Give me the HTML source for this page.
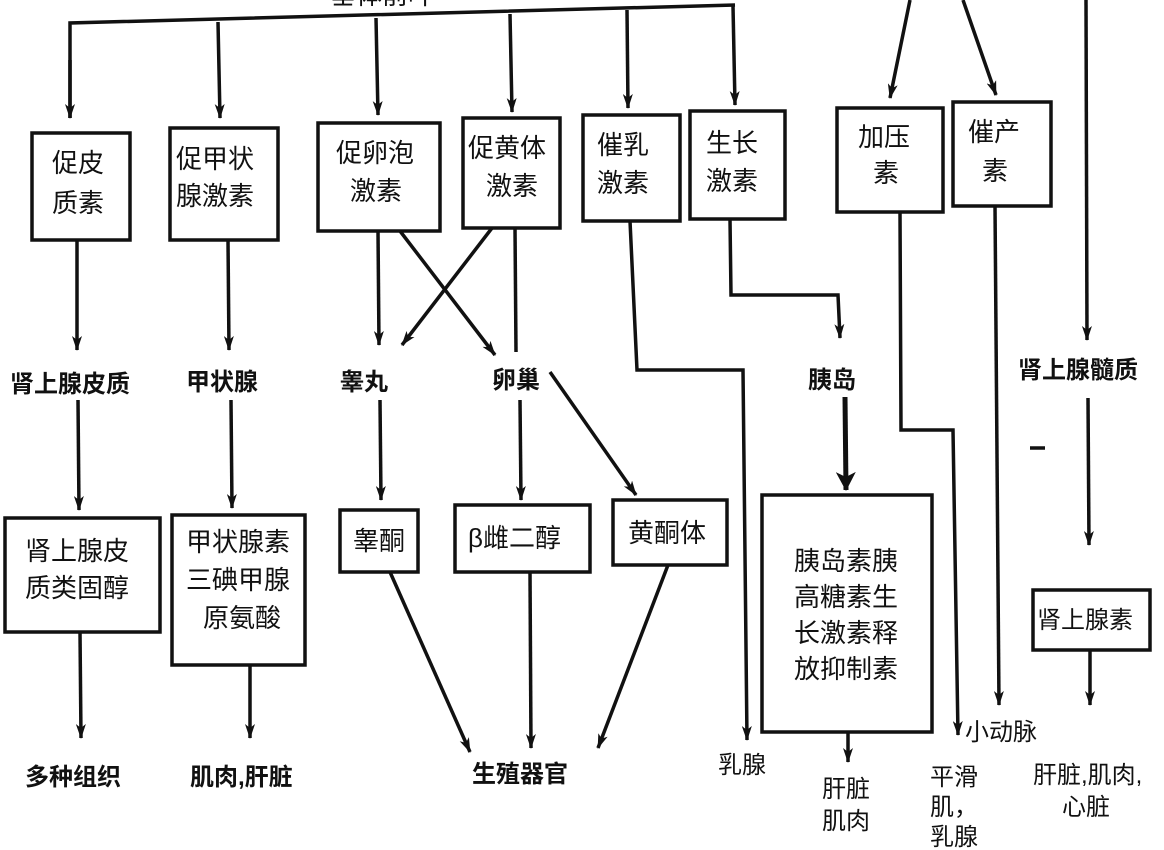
<!DOCTYPE html>
<html><head><meta charset="utf-8"><style>
html,body{margin:0;padding:0;background:#fff}
svg{display:block}
text{font-family:"Liberation Sans","Noto Sans CJK SC",sans-serif;font-size:26px;fill:#111}
.b{font-weight:bold;font-size:24px}
.s{font-size:24px}
</style></head><body>
<svg width="1164" height="850" viewBox="0 0 1164 850" xmlns="http://www.w3.org/2000/svg">
<defs>
<marker id="a" markerWidth="16" markerHeight="10" refX="14" refY="5" orient="auto" markerUnits="userSpaceOnUse">
<path d="M0,0 L15,5 L0,10 L4,5 Z" fill="#111"/></marker>
<marker id="A" markerWidth="20" markerHeight="20" refX="18" refY="10" orient="auto" markerUnits="userSpaceOnUse">
<path d="M0,0 L19,10 L0,20 L5,10 Z" fill="#111"/></marker>
</defs>
<g stroke="#111" stroke-width="3.5" fill="none">
<path d="M70,118 L70,23 L735,5"/>
<line x1="70" y1="60" x2="70" y2="118" marker-end="url(#a)"/>
<line x1="218" y1="22" x2="220" y2="118" marker-end="url(#a)"/>
<line x1="376" y1="18" x2="378" y2="115" marker-end="url(#a)"/>
<line x1="510" y1="14" x2="512" y2="112" marker-end="url(#a)"/>
<line x1="627" y1="10" x2="628" y2="108" marker-end="url(#a)"/>
<line x1="733" y1="6" x2="735" y2="105" marker-end="url(#a)"/>
<line x1="910" y1="0" x2="890" y2="98" marker-end="url(#a)"/>
<line x1="963" y1="0" x2="996" y2="95" marker-end="url(#a)"/>
<line x1="1086" y1="0" x2="1087" y2="340" marker-end="url(#a)"/>
<rect x="32" y="133" width="98" height="107"/>
<rect x="170" y="128" width="108" height="112"/>
<rect x="318" y="123" width="122" height="108"/>
<rect x="463" y="118" width="97" height="110"/>
<rect x="583" y="115" width="97" height="106"/>
<rect x="690" y="111" width="95" height="108"/>
<rect x="837" y="108" width="106" height="104"/>
<rect x="953" y="102" width="98" height="104"/>
<line x1="77" y1="240" x2="77" y2="350" marker-end="url(#a)"/>
<line x1="228" y1="240" x2="229" y2="350" marker-end="url(#a)"/>
<line x1="378" y1="231" x2="379" y2="345" marker-end="url(#a)"/>
<line x1="400" y1="231" x2="495" y2="355" marker-end="url(#a)"/>
<line x1="492" y1="228" x2="402" y2="345" marker-end="url(#a)"/>
<line x1="515" y1="228" x2="516" y2="352"/>
<path d="M630,221 L637,370 L743,370 L747,740" marker-end="url(#a)"/>
<path d="M730,219 L731,295 L838,295 L840,338" marker-end="url(#a)"/>
<path d="M900,212 L901,430 L953,430 L958,735" marker-end="url(#a)"/>
<line x1="995" y1="206" x2="999" y2="705" marker-end="url(#a)"/>
<line x1="1088" y1="398" x2="1089" y2="545" marker-end="url(#a)"/>
<line x1="1030" y1="448" x2="1045" y2="448"/>
<line x1="78" y1="400" x2="79" y2="510" marker-end="url(#a)"/>
<line x1="231" y1="400" x2="232" y2="508" marker-end="url(#a)"/>
<line x1="380" y1="400" x2="381" y2="500" marker-end="url(#a)"/>
<line x1="520" y1="400" x2="521" y2="500" marker-end="url(#a)"/>
<line x1="550" y1="372" x2="636" y2="495" marker-end="url(#a)"/>
<line x1="845" y1="397" x2="846" y2="490" stroke-width="5" marker-end="url(#A)"/>
<rect x="5" y="518" width="155" height="114"/>
<rect x="172" y="515" width="133" height="150"/>
<rect x="340" y="510" width="78" height="62"/>
<rect x="455" y="505" width="135" height="67"/>
<rect x="613" y="500" width="114" height="65"/>
<rect x="762" y="495" width="170" height="237"/>
<rect x="1033" y="590" width="117" height="60"/>
<line x1="80" y1="632" x2="81" y2="738" marker-end="url(#a)"/>
<line x1="250" y1="665" x2="250" y2="738" marker-end="url(#a)"/>
<line x1="390" y1="572" x2="470" y2="752" marker-end="url(#a)"/>
<line x1="530" y1="572" x2="531" y2="748" marker-end="url(#a)"/>
<line x1="668" y1="565" x2="598" y2="748" marker-end="url(#a)"/>
<line x1="848" y1="732" x2="848" y2="762" marker-end="url(#a)"/>
<line x1="1090" y1="650" x2="1090" y2="705" marker-end="url(#a)"/>
</g>
<g>
<text x="330" y="4">垂体前叶</text>
<text x="52" y="172">促皮</text><text x="52" y="212">质素</text>
<text x="176" y="168">促甲状</text><text x="176" y="205">腺激素</text>
<text x="336" y="162">促卵泡</text><text x="350" y="200">激素</text>
<text x="468" y="157">促黄体</text><text x="486" y="195">激素</text>
<text x="597" y="154">催乳</text><text x="597" y="192">激素</text>
<text x="706" y="152">生长</text><text x="706" y="190">激素</text>
<text x="858" y="146">加压</text><text x="873" y="182">素</text>
<text x="968" y="141">催产</text><text x="982" y="180">素</text>
<text class="b" x="10" y="392">肾上腺皮质</text>
<text class="b" x="186" y="390">甲状腺</text>
<text class="b" x="340" y="390">睾丸</text>
<text class="b" x="492" y="388">卵巢</text>
<text class="b" x="808" y="388">胰岛</text>
<text class="b" x="1018" y="378">肾上腺髓质</text>
<text x="25" y="560">肾上腺皮</text><text x="25" y="597">质类固醇</text>
<text x="186" y="551">甲状腺素</text><text x="186" y="589">三碘甲腺</text><text x="203" y="627">原氨酸</text>
<text x="353" y="550">睾酮</text>
<text x="468" y="547">β雌二醇</text>
<text x="628" y="542">黄酮体</text>
<text x="794" y="570">胰岛素胰</text><text x="794" y="606">高糖素生</text><text x="794" y="642">长激素释</text><text x="794" y="678">放抑制素</text>
<text class="s" x="1037" y="628">肾上腺素</text>
<text class="b" x="25" y="785">多种组织</text>
<text class="b" x="190" y="785">肌肉,肝脏</text>
<text class="b" x="472" y="782">生殖器官</text>
<text class="s" x="718" y="773">乳腺</text>
<text class="s" x="822" y="797">肝脏</text><text class="s" x="822" y="829">肌肉</text>
<text class="s" x="965" y="740">小动脉</text>
<text class="s" x="930" y="785">平滑</text><text class="s" x="930" y="815">肌，</text><text class="s" x="930" y="845">乳腺</text>
<text class="s" x="1033" y="783">肝脏,肌肉,</text><text class="s" x="1062" y="815">心脏</text>
</g>
</svg>
</body></html>
